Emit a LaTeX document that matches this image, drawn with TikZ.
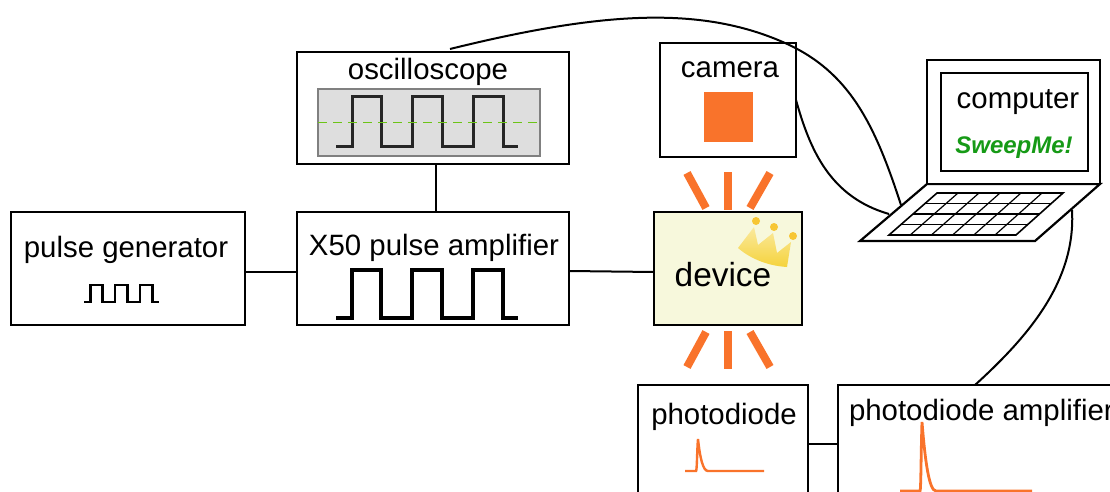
\documentclass[tikz,border=0pt]{standalone}
\usepackage{fontspec}
\setmainfont{Liberation Sans}
\usetikzlibrary{shadings}
\definecolor{rayorange}{HTML}{F9732B}
\definecolor{devicefill}{HTML}{F7F8DC}
\definecolor{crowngold}{HTML}{F5D33C}
\definecolor{sweepgreen}{HTML}{169A16}
\definecolor{screengreen}{HTML}{6CC417}
\tikzset{
    pulsewave/.pic={
        \draw[line cap=butt,line join=miter] (0,1) -- (16,1) -- (16,0) -- (45,0) -- (45,1) -- (76,1) -- (76,0) -- (106,0) -- (106,1) -- (137,1) -- (137,0) -- (167,0) -- (167,1) -- (182,1);
    }
}
\begin{document}
\begin{tikzpicture}[x=1pt,y=-1pt,
        every node/.style={inner sep=0pt,outer sep=0pt},
        box/.style={draw,line width=2.2pt,rectangle,anchor=north west},
        boxlabel/.style={font=\fontsize{29.4}{29.4}\selectfont,text=black,anchor=base},
        wire/.style={draw,line width=2pt},
        ray/.style={draw=rayorange,line width=8pt},
        peak/.style={draw=rayorange,line width=2.4pt}]
    \useasboundingbox (0,0) rectangle (1110,492);
    \clip (0,0) rectangle (1110,492);
    % boxes
    \node[box,minimum width=272pt,minimum height=112pt] (scope) at (297,52) {};
    \node[box,minimum width=136pt,minimum height=114pt] (camera) at (660,43) {};
    \node[box,minimum width=234pt,minimum height=113pt] (generator) at (11,212) {};
    \node[box,minimum width=272pt,minimum height=113pt] (amplifier) at (297,212) {};
    \node[box,fill=devicefill,minimum width=148pt,minimum height=113pt] (device) at (654,212) {};
    \node[box,minimum width=170pt,minimum height=125pt] (diode) at (638,385) {};
    \node[box,minimum width=300pt,minimum height=125pt] (diodeamp) at (838,385) {};
    % laptop
    \coordinate (lidleft) at (927,184);
    \coordinate (lidright) at (1100,184);
    \draw[line width=2.2pt,fill=white] (lidleft) -- (lidright) -- (1035,241) -- (860,241) -- cycle;
    \node[box,fill=white,minimum width=173pt,minimum height=124pt] (lid) at (927,60) {};
    \node[box,fill=white,minimum width=147pt,minimum height=98pt] (screen) at (941,73) {};
    \draw[line width=1.6pt] (937,193) -- (1063,193) -- (1016,235) -- (889,235) -- cycle;
    \foreach \k in {1,2,3} {
        \draw[line width=1.4pt] ({937-48*\k/4},{193+42*\k/4}) -- ({1063-47*\k/4},{193+42*\k/4});
    }
    \foreach \k in {1,...,5} {
        \draw[line width=1.2pt] ({937+21*\k},193) -- ({889+21.2*\k},235);
    }
    % wires
    \coordinate (scopetop) at (450,49);
    \coordinate (lidcornerA) at (901,205);
    \coordinate (lidcornerB) at (889,214);
    \coordinate (lidcornerC) at (1072,210);
    \coordinate (diodeamptop) at (975,385);
    \draw[wire] (scopetop) .. controls (600,12) and (700,5) .. (785,43) .. controls (850,72) and (875,125) .. (lidcornerA);
    \draw[wire] (camera.east) .. controls (810,150) and (830,197) .. (lidcornerB);
    \draw[wire] (lidcornerC) .. controls (1076,280) and (1030,335) .. (diodeamptop);
    \draw[wire] (scope.south -| 436,0) -- (amplifier.north -| 436,0);
    \draw[wire] (generator.east |- 0,272) -- (amplifier.west |- 0,272);
    \draw[wire] (amplifier.east |- 0,271) -- (device.west |- 0,272);
    \draw[wire] (diode.east |- 0,444) -- (diodeamp.west |- 0,444);
    % rays around the device
    \foreach \xa/\ya/\xb/\yb in {687/173/706/208,728/172/728/210,770/173/750/208,
        706/332/687/367,728/331/728/369,750/332/770/367} {
        \draw[ray] (\xa,\ya) -- (\xb,\yb);
    }
    % scope screen
    \node[box,draw=black!50,fill=black!13,line width=1.6pt,minimum width=222pt,minimum height=67pt] (trace) at (318,89) {};
    \pic[line width=3pt,draw=black!85,yscale=49] at (336,97) {pulsewave};
    \draw[draw=screengreen,line width=1.4pt,dash pattern=on 9pt off 6pt] (trace.west) -- (trace.east);
    \pic[line width=3.6pt,yscale=48] at (336,270) {pulsewave};
    \pic[line width=2.6pt,xscale=0.41,yscale=17] at (84,285) {pulsewave};
    % camera chip
    \node[anchor=north west,fill=rayorange,minimum width=49pt,minimum height=50pt] (chip) at (704,92) {};
    % peaks
    \draw[peak] (685,471) -- (696,471) .. controls (697,471) and (697,450) .. (698,439) .. controls (700,458) and (703,471) .. (708,471) -- (764,471);
    \draw[peak,line width=2.8pt] (900,491) -- (920,491) .. controls (921,491) and (921,450) .. (922,422) .. controls (925,460) and (929,491) .. (936,491) -- (1032,491);
    % crown
    \shade[top color=crowngold!50,bottom color=crowngold] (738,248) -- (754,227) -- (758,245) -- (773,233) -- (777,253) -- (791,242) -- (787,267) .. controls (770,266) and (752,260) .. cycle;
    \foreach \xc/\yc in {756/221,774/227,793/236} {
        \fill[crowngold!85!orange] (\xc,\yc) circle (4pt);
    }
    % labels
    \node[boxlabel] (scopelabel) at (428,80) {oscilloscope};
    \node[boxlabel] (cameralabel) at (730,78) {camera};
    \node[boxlabel] (generatorlabel) at (126,257) {pulse generator};
    \node[boxlabel] (amplifierlabel) at (434,255) {X50 pulse amplifier};
    \node[boxlabel,font=\fontsize{33.4}{33.4}\selectfont] (devicelabel) at (723,286) {device};
    \node[boxlabel] (diodelabel) at (724,424) {photodiode};
    \node[boxlabel,anchor=base west] (diodeamplabel) at (849,420) {photodiode amplifier};
    \node[boxlabel] (computerlabel) at (1018,109) {computer};
    \node[boxlabel,font=\fontsize{24}{24}\selectfont\bfseries\itshape,text=sweepgreen] (sweeplabel) at (1014,153) {SweepMe!};
\end{tikzpicture}
\end{document}
